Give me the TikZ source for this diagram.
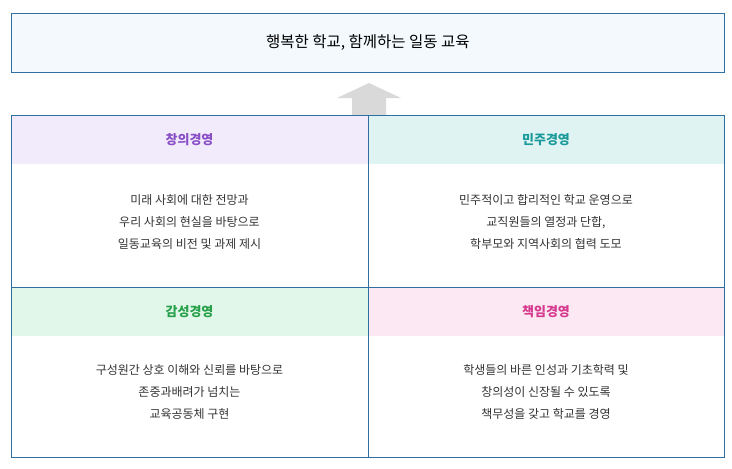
\documentclass[tikz,border=0pt]{standalone}
\usepackage{fontspec}
\setmainfont{Noto Sans CJK KR}
\definecolor{bl}{HTML}{2F6E9E}
\definecolor{tf}{HTML}{F3F9FD}
\definecolor{f1}{HTML}{F1EBFC}\definecolor{f2}{HTML}{E0F3F3}
\definecolor{f3}{HTML}{E1F7E9}\definecolor{f4}{HTML}{FCE8F3}
\definecolor{c1}{HTML}{8A4FC6}\definecolor{c2}{HTML}{1A9A9A}
\definecolor{c3}{HTML}{27A04A}\definecolor{c4}{HTML}{D63A8F}
\begin{document}
\begin{tikzpicture}[x=1pt,y=-1pt,
  hd/.style={font=\fontsize{13}{15}\selectfont\bfseries},
  bd/.style={font=\fontsize{12}{22}\selectfont, align=center, text=black!80}]
\useasboundingbox (0,0) rectangle (732,469);
\node[draw=bl, fill=tf, line width=0.6pt, minimum width=713pt, minimum height=59pt, anchor=north west,
  font=\fontsize{15.5}{18}\selectfont] (title) at (11,13) {행복한 학교, 함께하는 일동 교육};
\fill[black!15] (352,115) -- (352,98) -- (337,98) -- (369,83) -- (401,98) -- (386,98) -- (386,115) -- cycle;
\fill[f1] (11,115) rectangle (368,164);
\fill[f2] (368,115) rectangle (724,164);
\fill[f3] (11,287) rectangle (368,336);
\fill[f4] (368,287) rectangle (724,336);
\node[hd, text=c1] (h1) at (189.5,139.5) {창의경영};
\node[hd, text=c2] (h2) at (546,139.5) {민주경영};
\node[hd, text=c3] (h3) at (189.5,311.5) {감성경영};
\node[hd, text=c4] (h4) at (546,311.5) {책임경영};
\node[bd] (b1) at (189.5,222) {미래 사회에 대한 전망과\\우리 사회의 현실을 바탕으로\\일동교육의 비전 및 과제 제시};
\node[bd] (b2) at (546,222) {민주적이고 합리적인 학교 운영으로\\교직원들의 열정과 단합,\\학부모와 지역사회의 협력 도모};
\node[bd] (b3) at (189.5,392) {구성원간 상호 이해와 신뢰를 바탕으로\\존중과배려가 넘치는\\교육공동체 구현};
\node[bd] (b4) at (546,392) {학생들의 바른 인성과 기초학력 및\\창의성이 신장될 수 있도록\\책무성을 갖고 학교를 경영};
\draw[draw=bl, line width=0.6pt] (11,115) rectangle (724,457) (368,115) -- (368,457) (11,287) -- (724,287);
\end{tikzpicture}
\end{document}
